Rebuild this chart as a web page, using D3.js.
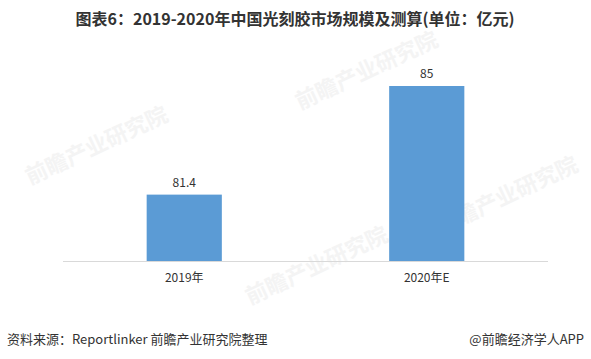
<!DOCTYPE html>
<html><head><meta charset="utf-8">
<script src="https://cdn.jsdelivr.net/npm/d3@7"></script>
<style>body{margin:0;background:#fff;}svg{display:block;font-family:"Noto Sans CJK SC","Noto Sans",sans-serif;}</style>
</head><body>
<script>
const categories = ["2019年", "2020年E"];
const values = [81.4, 85];
const valueLabels = ["81.4", "85"];
const titleText = "图表6：2019-2020年中国光刻胶市场规模及测算(单位：亿元)";
const sourceText = "资料来源：Reportlinker 前瞻产业研究院整理";
const brandText = "@前瞻经济学人APP";

const W = 591, H = 359;
const svg = d3.select("body").append("svg").attr("width", W).attr("height", H);

// faint watermarks
const wm = [[30,185],[300,110],[250,305],[440,235]];
wm.forEach(([x,y]) => {
  svg.append("text").attr("x", x).attr("y", y)
    .attr("transform", `rotate(-25 ${x} ${y})`)
    .attr("font-size", 22).attr("font-weight", "bold")
    .attr("fill", "#f4f4f4").text("前瞻产业研究院");
});

const x = d3.scaleBand().domain(categories).range([63, 548]).padding(0);
const y = d3.scaleLinear().domain([79.2, 85]).range([261, 86]);
const barW = x.bandwidth() * 0.31;

svg.append("text").attr("x", 295).attr("y", 25).attr("text-anchor", "middle")
  .attr("font-size", 16).attr("font-weight", "bold").attr("fill", "#333")
  .text(titleText);

svg.selectAll("rect.bar").data(values).join("rect").attr("class", "bar")
  .attr("x", (d, i) => x(categories[i]) + x.bandwidth() / 2 - barW / 2)
  .attr("width", barW)
  .attr("y", d => y(d))
  .attr("height", d => y.range()[0] - y(d))
  .attr("fill", "#5B9BD5");

svg.append("line").attr("x1", 63).attr("x2", 548).attr("y1", 261.5).attr("y2", 261.5)
  .attr("stroke", "#d9d9d9").attr("stroke-width", 1);

svg.selectAll("text.val").data(values).join("text").attr("class", "val")
  .attr("x", (d, i) => x(categories[i]) + x.bandwidth() / 2)
  .attr("y", d => y(d) - 8)
  .attr("text-anchor", "middle").attr("font-size", 12).attr("fill", "#333")
  .text((d, i) => valueLabels[i]);

svg.selectAll("text.cat").data(categories).join("text").attr("class", "cat")
  .attr("x", d => x(d) + x.bandwidth() / 2)
  .attr("y", 282)
  .attr("text-anchor", "middle").attr("font-size", 12).attr("fill", "#333")
  .text(d => d);

svg.append("text").attr("x", 7).attr("y", 344).attr("font-size", 13).attr("fill", "#333").text(sourceText);
svg.append("text").attr("x", 584).attr("y", 344).attr("text-anchor", "end").attr("font-size", 13).attr("fill", "#333").text(brandText);
</script>
</body></html>
